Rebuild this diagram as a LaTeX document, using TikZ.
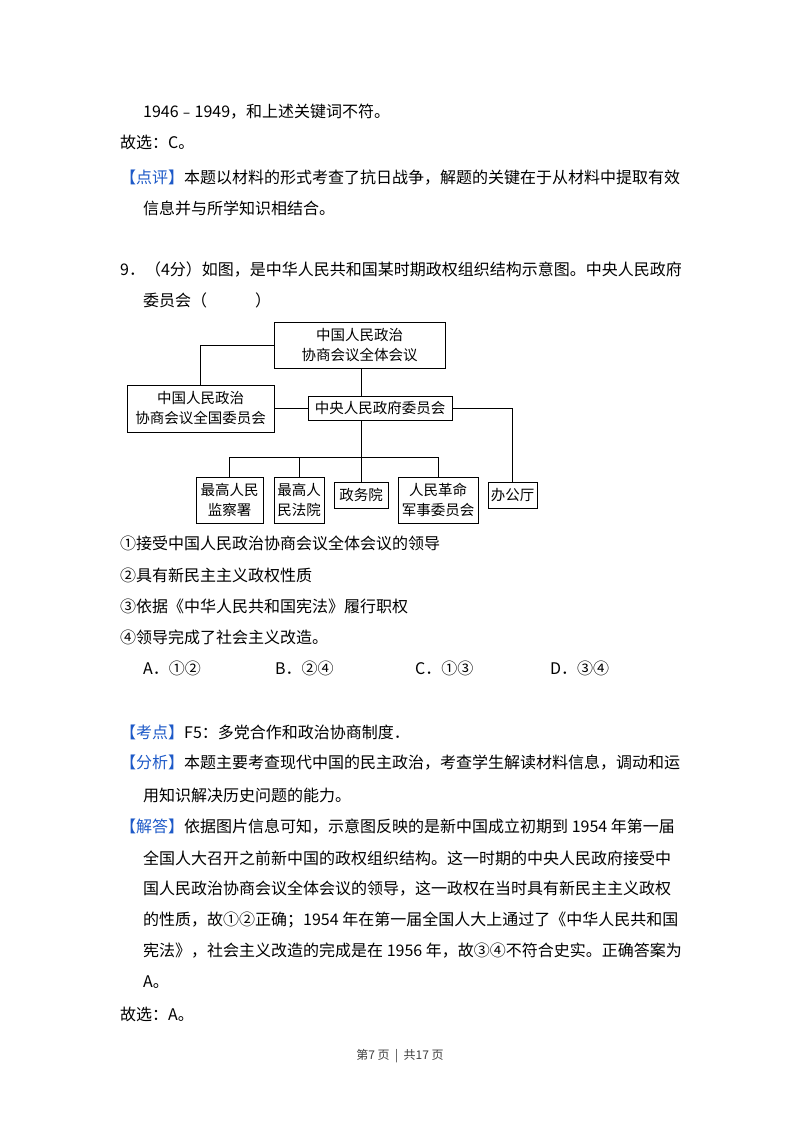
\documentclass[tikz,border=0pt]{standalone}
\usepackage{fontspec}
\setmainfont{Noto Sans CJK SC}
\definecolor{kblue}{RGB}{30,90,200}
\begin{document}
\begin{tikzpicture}[x=1pt,y=-1pt,
  t/.style={anchor=west,inner sep=0,font=\fontsize{16}{19}\selectfont},
  bx/.style={draw,line width=0.9pt,inner sep=0,align=center,font=\fontsize{14.5}{20}\selectfont},
  ln/.style={line width=0.9pt}]
\useasboundingbox (0,0) rectangle (800,1132);
\fill[white] (0,0) rectangle (800,1132);
\node[t] (l1) at (143,112) {1946﹣1949，和上述关键词不符。};
\node[t] (l2) at (120,142) {故选：C。};
\node[t] (l3) at (120,178) {\textcolor{kblue}{【点评】}本题以材料的形式考查了抗日战争，解题的关键在于从材料中提取有效};
\node[t] (l4) at (143,208) {信息并与所学知识相结合。};
\node[t] (l5) at (120,270) {9．（4分）如图，是中华人民共和国某时期政权组织结构示意图。中央人民政府};
\node[t] (l6) at (143,300) {委员会（\hspace{3em}）};
% diagram
\node[bx,minimum width=171,minimum height=46] (top) at (359.5,345) {中国人民政治\\协商会议全体会议};
\node[bx,minimum width=147,minimum height=47] (left) at (200.5,408.5) {中国人民政治\\协商会议全国委员会};
\node[bx,minimum width=144,minimum height=24] (cen) at (380,408) {中央人民政府委员会};
\node[bx,minimum width=67,minimum height=46] (b1) at (229.5,500) {最高人民\\监察署};
\node[bx,minimum width=50,minimum height=46] (b2) at (299,500) {最高人\\民法院};
\node[bx,minimum width=54,minimum height=26] (b3) at (361,495) {政务院};
\node[bx,minimum width=80,minimum height=46] (b4) at (438,500) {人民革命\\军事委员会};
\node[bx,minimum width=49,minimum height=26] (b5) at (512.5,495) {办公厅};
\coordinate (j) at (361,457);
\draw[ln] (top.west) -| (left.north);
\draw[ln] (top.south -| j) -- (cen.north -| j);
\draw[ln] (left.east |- cen.west) -- (cen.west);
\draw[ln] (cen.east) -| (b5.north);
\draw[ln] (cen.south -| j) -- (j);
\draw[ln] (b1.north |- j) -- (b4.north |- j);
\draw[ln] (b1.north |- j) -- (b1.north);
\draw[ln] (b2.north |- j) -- (b2.north);
\draw[ln] (j) -- (b3.north);
\draw[ln] (b4.north |- j) -- (b4.north);
% options
\node[t] (o1) at (120,543) {①接受中国人民政治协商会议全体会议的领导};
\node[t] (o2) at (120,575) {②具有新民主主义政权性质};
\node[t] (o3) at (120,606) {③依据《中华人民共和国宪法》履行职权};
\node[t] (o4) at (120,637) {④领导完成了社会主义改造。};
\node[t] (a) at (143,668) {A．①②};
\node[t] (b) at (275,668) {B．②④};
\node[t] (c) at (415,668) {C．①③};
\node[t] (d) at (550,668) {D．③④};
\node[t] (k1) at (120,732) {\textcolor{kblue}{【考点】}F5：多党合作和政治协商制度．};
\node[t] (k2) at (120,763) {\textcolor{kblue}{【分析】}本题主要考查现代中国的民主政治，考查学生解读材料信息，调动和运};
\node[t] (k3) at (143,795) {用知识解决历史问题的能力。};
\node[t] (k4) at (120,827) {\textcolor{kblue}{【解答】}依据图片信息可知，示意图反映的是新中国成立初期到 1954 年第一届};
\node[t] (k5) at (143,858) {全国人大召开之前新中国的政权组织结构。这一时期的中央人民政府接受中};
\node[t] (k6) at (143,889) {国人民政治协商会议全体会议的领导，这一政权在当时具有新民主主义政权};
\node[t] (k7) at (143,920) {的性质，故①②正确；1954 年在第一届全国人大上通过了《中华人民共和国};
\node[t] (k8) at (143,951) {宪法》，社会主义改造的完成是在 1956 年，故③④不符合史实。正确答案为};
\node[t] (k9) at (143,982) {A。};
\node[t] (k10) at (120,1014) {故选：A。};
\node[inner sep=0,font=\fontsize{12}{14}\selectfont,text=black!75] (ft) at (400,1056) {第7 页 \ | \ 共17 页};
\end{tikzpicture}
\end{document}
